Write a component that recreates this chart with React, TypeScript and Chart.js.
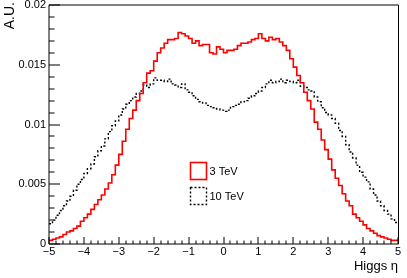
import React, { useEffect, useRef } from "react";
import { Chart, registerables } from "chart.js";

Chart.register(...registerables);

// Histogram binning (100 bins from -5 to 5)
const BIN_START = -5;
const BIN_WIDTH = 0.1;

// Normalised Higgs eta distribution, 3 TeV (bin contents, left to right)
const higgsEta3TeV = [
  0.0003, 0.0004, 0.0005, 0.0006, 0.0008, 0.0010, 0.0011, 0.0013, 0.0015, 0.0019,
  0.0022, 0.0025, 0.0029, 0.0033, 0.0037, 0.0041, 0.0046, 0.0051, 0.0058, 0.0066,
  0.0075, 0.0086, 0.0096, 0.0105, 0.0112, 0.0120, 0.0126, 0.0135, 0.0143, 0.0145,
  0.0153, 0.0160, 0.0164, 0.0168, 0.0171, 0.0171, 0.0172, 0.0177, 0.0176, 0.0174,
  0.0172, 0.0168, 0.0170, 0.0166, 0.0167, 0.0167, 0.0160, 0.0159, 0.0165, 0.0163,
  0.0160, 0.0162, 0.0162, 0.0163, 0.0166, 0.0168, 0.0168, 0.0169, 0.0171, 0.0172,
  0.0176, 0.0172, 0.0170, 0.0173, 0.0171, 0.0172, 0.0169, 0.0166, 0.0162, 0.0155,
  0.0148, 0.0141, 0.0135, 0.0127, 0.0120, 0.0113, 0.0102, 0.0096, 0.0087, 0.0079,
  0.0071, 0.0062, 0.0055, 0.0049, 0.0042, 0.0036, 0.0032, 0.0025, 0.0022, 0.0019,
  0.0016, 0.0013, 0.0011, 0.0009, 0.0007, 0.0006, 0.0005, 0.0004, 0.0003, 0.0003,
];

// Normalised Higgs eta distribution, 10 TeV
const higgsEta10TeV = [
  0.0017, 0.0020, 0.0024, 0.0028, 0.0032, 0.0036, 0.0040, 0.0045, 0.0050, 0.0054,
  0.0059, 0.0063, 0.0067, 0.0073, 0.0078, 0.0082, 0.0088, 0.0094, 0.0099, 0.0103,
  0.0108, 0.0113, 0.0117, 0.0120, 0.0123, 0.0126, 0.0128, 0.0133, 0.0131, 0.0134,
  0.0139, 0.0137, 0.0137, 0.0136, 0.0138, 0.0134, 0.0133, 0.0131, 0.0134, 0.0129,
  0.0127, 0.0124, 0.0121, 0.0119, 0.0118, 0.0116, 0.0115, 0.0114, 0.0113, 0.0112,
  0.0111, 0.0112, 0.0115, 0.0116, 0.0117, 0.0119, 0.0120, 0.0122, 0.0124, 0.0126,
  0.0128, 0.0131, 0.0134, 0.0137, 0.0135, 0.0136, 0.0138, 0.0135, 0.0137, 0.0136,
  0.0135, 0.0137, 0.0132, 0.0131, 0.0129, 0.0128, 0.0123, 0.0119, 0.0114, 0.0110,
  0.0108, 0.0105, 0.0101, 0.0095, 0.0090, 0.0083, 0.0077, 0.0072, 0.0066, 0.0060,
  0.0056, 0.0052, 0.0046, 0.0041, 0.0036, 0.0032, 0.0028, 0.0025, 0.0021, 0.0018,
];

const seriesLabels = ["3 TeV", "10 TeV"];
const xTickValues = [-5, -4, -3, -2, -1, 0, 1, 2, 3, 4, 5];
const xTickLabels = ["\u22125", "\u22124", "\u22123", "\u22122", "\u22121", "0", "1", "2", "3", "4", "5"];
const yTickValues = [0, 0.005, 0.01, 0.015, 0.02];
const yTickLabels = ["0", "0.005", "0.01", "0.015", "0.02"];
const xMinorStep = 0.2;
const yMinorStep = 0.001;
const xTitle = "Higgs \u03b7";
const yTitle = "A.U.";

const FONT = "'Liberation Sans', Arial, Helvetica, sans-serif";

function toSteps(vals: number[]) {
  const pts = vals.map((v, i) => ({ x: BIN_START + i * BIN_WIDTH, y: v }));
  pts.push({ x: BIN_START + vals.length * BIN_WIDTH, y: vals[vals.length - 1] });
  return pts;
}

const framePlugin = {
  id: "rootFrame",
  afterDraw(chart: any) {
    const ctx = chart.ctx as CanvasRenderingContext2D;
    const { left, right, top, bottom } = chart.chartArea;
    const xs = chart.scales.x;
    const ys = chart.scales.y;
    ctx.save();
    ctx.strokeStyle = "#000";
    ctx.lineWidth = 1;
    // frame
    ctx.beginPath();
    ctx.moveTo(left, top);
    ctx.lineTo(right + 0.5, top);
    ctx.moveTo(right + 0.5, top);
    ctx.lineTo(right + 0.5, bottom);
    ctx.moveTo(left, top);
    ctx.lineTo(left, bottom);
    ctx.moveTo(left, bottom);
    ctx.lineTo(right + 0.5, bottom);
    ctx.stroke();
    // y ticks (inward)
    ctx.beginPath();
    const yMax = yTickValues[yTickValues.length - 1];
    for (let k = 0; k * yMinorStep <= yMax + 1e-9; k++) {
      const v = k * yMinorStep;
      const py = Math.round(ys.getPixelForValue(v));
      const major = k % 5 === 0;
      ctx.moveTo(left, py);
      ctx.lineTo(left + (major ? 11 : 5.5), py);
    }
    // x ticks (inward)
    const xMin = xTickValues[0];
    const xMax = xTickValues[xTickValues.length - 1];
    const nx = Math.round((xMax - xMin) / xMinorStep);
    for (let k = 0; k <= nx; k++) {
      const v = xMin + k * xMinorStep;
      const px = Math.round(xs.getPixelForValue(v));
      const major = k % 5 === 0;
      ctx.moveTo(px, bottom);
      ctx.lineTo(px, bottom - (major ? 7 : 3.5));
    }
    ctx.stroke();

    // tick labels
    ctx.fillStyle = "#000";
    ctx.font = `11px ${FONT}`;
    ctx.textAlign = "right";
    ctx.textBaseline = "middle";
    yTickValues.forEach((v, i) => {
      ctx.fillText(yTickLabels[i], left - 3, ys.getPixelForValue(v));
    });
    ctx.textAlign = "center";
    ctx.textBaseline = "top";
    xTickValues.forEach((v, i) => {
      ctx.fillText(xTickLabels[i], xs.getPixelForValue(v), bottom + 2.5);
    });

    // axis titles
    ctx.font = `13px ${FONT}`;
    ctx.textAlign = "right";
    ctx.textBaseline = "alphabetic";
    ctx.fillText(xTitle, right, 270);
    ctx.save();
    ctx.translate(13.5, 2);
    ctx.rotate(-Math.PI / 2);
    ctx.font = `14px ${FONT}`;
    ctx.fillText(yTitle, 0, 0);
    ctx.restore();

    // legend
    const ds = chart.data.datasets;
    const boxX = 190.5;
    const boxW = 16;
    const boxH = 17;
    const rows = [162, 187];
    ctx.font = `11px ${FONT}`;
    ctx.textAlign = "left";
    ctx.textBaseline = "middle";
    ds.forEach((d: any, i: number) => {
      ctx.save();
      ctx.strokeStyle = d.borderColor;
      ctx.lineWidth = d.borderWidth;
      ctx.setLineDash(d.borderDash || []);
      ctx.strokeRect(boxX, rows[i] + 0.5, boxW, boxH);
      ctx.restore();
      ctx.fillStyle = "#000";
      ctx.fillText(d.label, boxX + boxW + 3, rows[i] + boxH / 2 + 1);
    });
    ctx.restore();
  },
};

export default function App() {
  const ref = useRef<HTMLCanvasElement | null>(null);
  useEffect(() => {
    if (!ref.current) return;
    const chart = new Chart(ref.current, {
      type: "line",
      data: {
        datasets: [
          {
            label: seriesLabels[0],
            data: toSteps(higgsEta3TeV),
            stepped: "before",
            borderColor: "#ff0000",
            borderWidth: 1.6,
            pointRadius: 0,
            fill: false,
          },
          {
            label: seriesLabels[1],
            data: toSteps(higgsEta10TeV),
            stepped: "before",
            borderColor: "#000000",
            borderWidth: 1.4,
            borderDash: [2, 2],
            pointRadius: 0,
            fill: false,
          },
        ],
      },
      options: {
        animation: false,
        responsive: true,
        maintainAspectRatio: false,
        layout: { padding: { top: 5, right: 9, left: 0, bottom: 0 } },
        plugins: { legend: { display: false }, tooltip: { enabled: false } },
        scales: {
          x: {
            type: "linear",
            min: xTickValues[0],
            max: xTickValues[xTickValues.length - 1],
            grid: { display: false },
            border: { display: false },
            ticks: { display: false },
            afterFit: (s: any) => {
              s.height = 34;
            },
          },
          y: {
            type: "linear",
            min: yTickValues[0],
            max: yTickValues[yTickValues.length - 1],
            grid: { display: false },
            border: { display: false },
            ticks: { display: false },
            afterFit: (s: any) => {
              s.width = 49;
            },
          },
        },
      },
      plugins: [framePlugin],
    });
    return () => chart.destroy();
  }, []);
  return (
    <div style={{ position: "fixed", left: 0, top: 0, width: 407, height: 278, background: "#fff" }}>
      <canvas ref={ref} />
    </div>
  );
}
